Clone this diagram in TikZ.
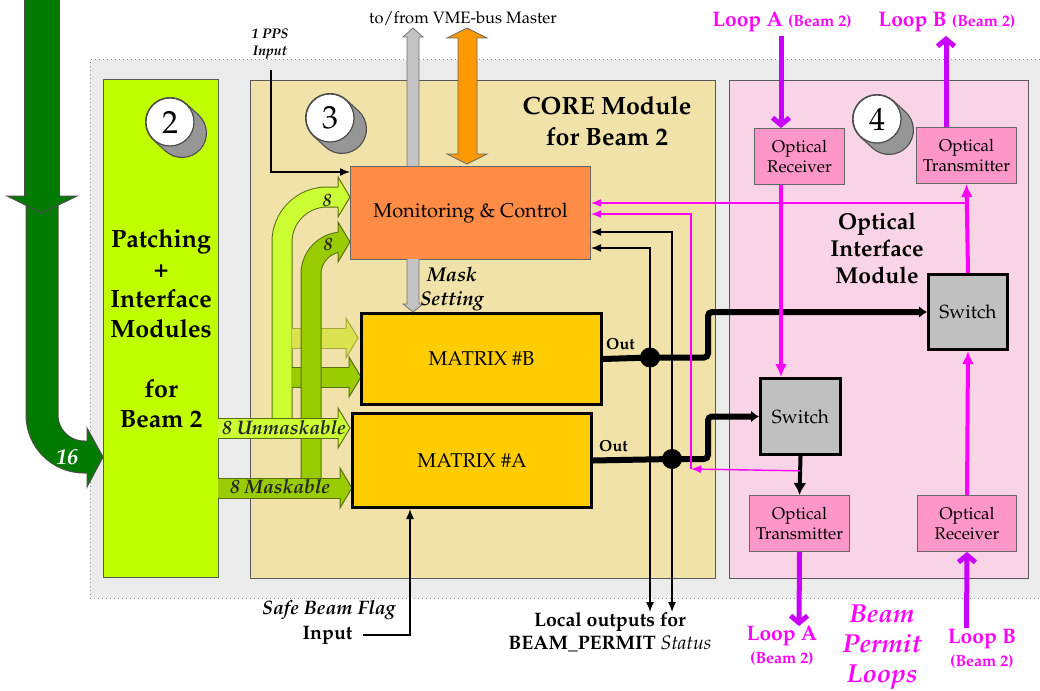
\documentclass[tikz,border=0pt]{standalone}
\usepackage[T1]{fontenc}
\usepackage{mathpazo}
\usepackage{tikz}
\usetikzlibrary{arrows.meta, positioning, calc}
\definecolor{bggrey}{RGB}{235,235,235}
\definecolor{limebg}{RGB}{192,255,0}
\definecolor{corebg}{RGB}{240,226,168}
\definecolor{oibg}{RGB}{248,212,230}
\definecolor{mcorange}{RGB}{255,140,70}
\definecolor{matyellow}{RGB}{255,204,0}
\definecolor{optpink}{RGB}{255,150,200}
\definecolor{swgrey}{RGB}{192,192,192}
\definecolor{vmegrey}{RGB}{195,195,195}
\definecolor{vmeorange}{RGB}{255,153,0}
\definecolor{arrowgreen}{RGB}{0,122,0}
\definecolor{unmaskgreen}{RGB}{204,255,51}
\definecolor{maskgreen}{RGB}{153,204,0}
\definecolor{palegreen}{RGB}{218,226,80}
\definecolor{bandedge}{RGB}{90,110,20}
\definecolor{linkmag}{RGB}{255,0,255}
\definecolor{loopviolet}{RGB}{200,0,255}
\definecolor{discgrey}{RGB}{150,150,150}
\newcommand{\fsz}[2]{\fontsize{#1}{#2}\selectfont}
\tikzset{
  module/.style={draw=black!65, line width=1.2pt, anchor=north west},
  mcbox/.style={draw=black!60, line width=1pt, fill=mcorange, anchor=north west, font=\fsz{20}{24}},
  matbox/.style={draw, line width=3pt, fill=matyellow, anchor=north west, font=\fsz{20}{24}},
  swbox/.style={draw, line width=3pt, fill=swgrey, anchor=north west, font=\fsz{19}{22}},
  optbox/.style={draw=black!60, line width=1pt, fill=optpink, anchor=north west, align=center, font=\fsz{17}{20}},
  junction/.style={circle, fill, inner sep=0pt, minimum size=20pt},
  band/.style={double=#1, double distance=19pt, line width=1pt, draw=bandedge},
  headr/.pic={\path[pic actions, line width=1pt] (-12,-10) -- (-12,-20) -- (0,0) -- (-12,20) -- (-12,10);},
  numdisc/.pic={
    \draw[line width=50pt, line cap=round, black!70] (0,0) -- (12,11);
    \draw[line width=47.6pt, line cap=round, discgrey] (0,0) -- (12,11);
    \draw[black!70, fill=white, line width=1.2pt] (0,0) circle (24pt);
    \node[font=\fsz{32}{32}] at (0,0) {#1};
  },
  sigarrow/.style={-{Latex[length=10pt,width=8pt]}, line width=1.4pt},
  maglink/.style={-{Latex[length=10pt,width=8pt]}, line width=1.4pt, linkmag},
  magthick/.style={-{Latex[length=13pt,width=12pt]}, line width=4pt, linkmag},
  loopline/.style={-{Straight Barb[length=7pt,width=17pt]}, line width=5pt, loopviolet},
  outwire/.style={line width=6pt, rounded corners=4pt, -{Latex[length=8pt,width=12pt]}},
  blkthick/.style={-{Latex[length=12pt,width=13pt]}, line width=4pt},
  bandlbl/.style={font=\fsz{19.5}{20}\bfseries\itshape, black!85},
  outlbl/.style={font=\fsz{16}{16}\bfseries, inner sep=0pt},
  looplbl/.style={font=\fsz{21}{23}\bfseries, linkmag, align=center},
  bigbold/.style={font=\fsz{25}{30}\bfseries, align=center}
}
\begin{document}
\begin{tikzpicture}[x=1pt, y=-1pt]
  \useasboundingbox (0,0) rectangle (1040,690);
  % grey system area
  \fill[bggrey] (90,60) rectangle (1040,598);
  \draw[dash pattern=on 1pt off 3pt, line width=1pt, black!45] (1040,60) -- (90,60) -- (90,598) -- (1040,598);

  % 16 inputs from the left
  \draw[band=arrowgreen, double distance=31pt, draw=black!70, rounded corners=42pt] (42,-5) |- (88,457);
  \path[fill=arrowgreen, draw=black!70, line width=1pt] (87,441) -- (87,428) -- (103,457) -- (87,487) -- (87,473);
  \draw[band=arrowgreen, double distance=34pt, draw=black!70] (42,-5) -- (42,197);
  \path[fill=arrowgreen, draw=black!70, line width=1pt] (24.5,196) -- (7,196) -- (42,213) -- (77,196) -- (59.5,196);
  \node[font=\fsz{22}{22}\bfseries\itshape, white] (n16) at (67,457) {16};

  % modules
  \node[module, fill=limebg, minimum width=115pt, minimum height=498pt, bigbold] (patchmod) at (103,79)
    {Patching\\+\\Interface\\Modules\\[30pt]for\\Beam 2};
  \node[module, fill=corebg, minimum width=465pt, minimum height=498pt] (coremod) at (250,80) {};
  \node[module, fill=oibg, minimum width=299pt, minimum height=498pt] (oimod) at (729,80) {};
  \node[bigbold, font=\fsz{25}{31}\bfseries] (coretitle) at (607,121) {CORE Module\\for Beam 2};
  \node[bigbold, font=\fsz{23}{27}\bfseries] (oititle) at (877,248) {Optical\\Interface\\Module};
  \pic at (170,122) {numdisc=2};
  \pic at (330,118) {numdisc=3};
  \pic at (877,119) {numdisc=4};

  % signal bands
  \draw[band=unmaskgreen, rounded corners=45pt] (282,419) |- (339,197);
  \pic[fill=unmaskgreen, draw=bandedge] at (350,197) {headr};
  \draw[band=palegreen, draw=palegreen!75!black] (292,338) -- (347,338);
  \pic[fill=palegreen, draw=palegreen!75!black] at (358,338) {headr};
  \draw[band=maskgreen] (292,377) -- (350,377);
  \pic[fill=maskgreen, draw=bandedge] at (361,377) {headr};
  \draw[band=maskgreen, rounded corners=32pt] (311,479) |- (339,242);
  \pic[fill=maskgreen, draw=bandedge] at (350,242) {headr};
  \draw[band=unmaskgreen] (218,428) -- (339,428);
  \pic[fill=unmaskgreen, draw=bandedge] at (350,428) {headr};
  \draw[band=maskgreen] (218,488) -- (341,488);
  \pic[fill=maskgreen, draw=bandedge] at (352,488) {headr};
  \node[bandlbl] (unmasklbl) at (284,428) {8 Unmaskable};
  \node[bandlbl] (masklbl) at (280,487) {8 Maskable};
  \node[bandlbl, font=\fsz{18}{18}\bfseries\itshape] (n8a) at (327,201) {8};
  \node[bandlbl, font=\fsz{18}{18}\bfseries\itshape] (n8b) at (328,245) {8};

  % CORE blocks
  \node[mcbox, minimum width=240pt, minimum height=93pt] (monctrl) at (350,166) {Monitoring \& Control};
  \node[matbox, minimum width=240pt, minimum height=91pt] (matB) at (360,312) {MATRIX \#B};
  \node[matbox, minimum width=239pt, minimum height=94pt] (matA) at (351,412) {MATRIX \#A};

  % optical blocks
  \node[swbox, minimum width=79pt, minimum height=75pt] (swB) at (927,273) {Switch};
  \node[swbox, minimum width=80pt, minimum height=76pt] (swA) at (759,377) {Switch};
  \node[optbox, minimum width=90pt, minimum height=56pt] (rxA) at (754,128) {Optical\\Receiver};
  \node[optbox, minimum width=100pt, minimum height=56pt] (txB) at (916,127) {Optical\\Transmitter};
  \node[optbox, minimum width=100pt, minimum height=56pt] (txA) at (749,495) {Optical\\Transmitter};
  \node[optbox, minimum width=99pt, minimum height=56pt] (rxB) at (917,495) {Optical\\Receiver};

  % VME bus
  \path[fill=vmegrey, draw=black!55, line width=0.8pt] (407,166) -- (407,37) -- (403,37) -- (413,28) -- (423,37) -- (419,37) -- (419,166);
  \path[fill=vmegrey, draw=black!55, line width=0.8pt] (407,259) -- (407,304) -- (403,304) -- (413,312) -- (423,304) -- (419,304) -- (419,259);
  \filldraw[fill=vmeorange, draw=black!60, line width=0.8pt] (458,38) -- (447,38) -- (467,28) -- (487,38) -- (477,38)
    -- (477,154) -- (487,154) -- (467,164) -- (447,154) -- (458,154) -- cycle;
  \node[font=\fsz{16.5}{18}] (vmelbl) at (463,19) {to/from VME-bus Master};
  \node[font=\fsz{20}{24}\bfseries\itshape, align=center] (masklbl2) at (452,289) {Mask\\Setting};

  % 1 PPS
  \node[font=\fsz{14}{17}\bfseries\itshape, align=center] (ppslbl) at (270,44) {1 PPS\\Input};
  \coordinate (ppsin) at (271,70);
  \draw[sigarrow] (ppsin) |- ($(monctrl.north west)+(0,6)$);

  % safe beam flag
  \node[font=\fsz{19.5}{22}\bfseries\itshape, anchor=east] (sbflag) at (399,610) {Safe Beam Flag};
  \node[font=\fsz{19.5}{22}\bfseries, anchor=east] (sbinput) at (356,635) {Input};
  \draw[sigarrow] ([xshift=7pt]sbinput.east) -| ($(matA.south west)+(59,0)$);

  % matrix outputs
  \node[junction] (dotB) at (650,357.5) {};
  \node[junction] (dotA) at (672,459) {};
  \coordinate (bendB) at (708,357.5);
  \coordinate (bendA) at (708,459);
  \draw[outwire] (matB.east) -- (dotB.center) -- (bendB) |- (swB.west);
  \draw[outwire] (matA.east) -- (dotA.center) -- (bendA) |- (swA.west);
  \node[outlbl, above right=9pt and 3pt of matB.east] (outB) {Out};
  \node[outlbl, above right=9pt and 6pt of matA.east] (outA) {Out};

  \coordinate (mcin1) at ($(monctrl.north east)+(0,37)$);
  \coordinate (mcin2) at ($(monctrl.north east)+(0,48)$);
  \coordinate (mcin3) at ($(monctrl.north east)+(0,66)$);
  \coordinate (mcin4) at ($(monctrl.north east)+(0,82)$);
  \coordinate (locB) at (650,612);
  \coordinate (locA) at (672,612);
  \draw[sigarrow] (dotB.center) |- (mcin4);
  \draw[sigarrow] (dotA.center) |- (mcin3);
  \draw[sigarrow] (dotB.center) -- (locB);
  \draw[sigarrow] (dotA.center) -- (locA);
  \node[font=\fsz{19.5}{23}\bfseries, align=center] (loclbl) at (610,632)
    {Local outputs for\\BEAM\_PERMIT {\mdseries\itshape Status}};

  % permit loops
  \draw[blkthick] (swA.south) -- (txA.north);
  \coordinate (magA) at (691,469);
  \draw[maglink] ($(swA.south)!0.38!(txA.north)$) -- (magA);
  \draw[maglink] (magA) |- (mcin2);
  \draw[maglink] (swB.north |- mcin1) -- (mcin1);
  \coordinate (loopAin) at (781,36);
  \coordinate (loopBout) at (946,36);
  \coordinate (loopAout) at (799,626);
  \coordinate (loopBin) at (966.5,628);
  \draw[loopline] (loopAin) -- (loopAin |- rxA.north);
  \draw[magthick] (loopAin |- rxA.south) -- (loopAin |- swA.north);
  \draw[magthick] (swB.north) -- (txB.south);
  \draw[magthick] (rxB.north) -- (swB.south);
  \draw[loopline] (loopBout |- txB.north) -- (loopBout);
  \draw[loopline] (txA.south) -- (loopAout);
  \draw[loopline] (loopBin) -- (rxB.south);

  \node[looplbl] (lpAtop) at (782,22) {Loop A {\fsz{16}{18}(Beam 2)}};
  \node[looplbl] (lpBtop) at (947,22) {Loop B {\fsz{16}{18}(Beam 2)}};
  \node[looplbl] (lpAbot) at (782,646) {Loop A\\{\fsz{16}{18}(Beam 2)}};
  \node[looplbl] (lpBbot) at (982,649) {Loop B\\{\fsz{16}{18}(Beam 2)}};
  \node[font=\fsz{26}{30}\bfseries\itshape, linkmag, align=center] (bplbl) at (882,647) {Beam\\Permit\\Loops};
\end{tikzpicture}
\end{document}
